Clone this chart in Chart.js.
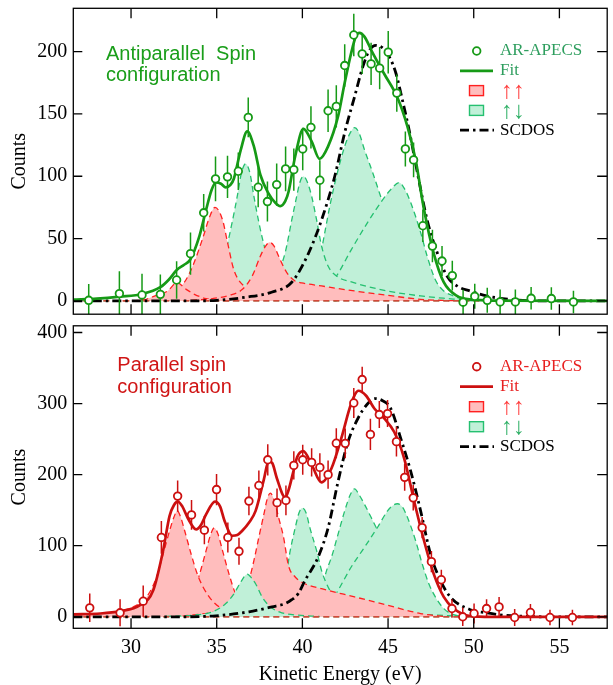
<!DOCTYPE html>
<html>
<head>
<meta charset="utf-8">
<script src="https://cdn.jsdelivr.net/npm/chart.js@4.4.1/dist/chart.umd.min.js"></script>
<style>
  html, body { margin: 0; padding: 0; background: #fff; }
  #wrap { position: relative; width: 613px; height: 685px; }
  #cTop { position: absolute; left: 0; top: 0; }
  #cBot { position: absolute; left: 0; top: 320px; }
</style>
</head>
<body>
<div id="wrap">
  <canvas id="cTop" width="613" height="320"></canvas>
  <canvas id="cBot" width="613" height="365"></canvas>
</div>
<script>
// ---- axis ticks / labels ----
const xTicks = [30, 35, 40, 45, 50, 55];
const yTicksTop = [0, 50, 100, 150, 200];
const yTicksBot = [0, 100, 200, 300, 400];
const legendLabels = ['AR-APECS', 'Fit', '\u2191\u2191', '\u2191\u2193', 'SCDOS'];

// ---- antiparallel (top) : measured points ----
const topEnergy = [27.53, 29.32, 30.64, 31.71, 32.66, 33.47, 34.24, 34.93, 35.63, 36.26, 36.84, 37.42, 37.96, 38.50,
  39.02, 39.50, 40.02, 40.50, 41.02, 41.50, 41.98, 42.47, 43.00, 43.49, 44.01, 44.51, 45.01, 45.51, 46.01, 46.49,
  47.03, 47.59, 48.15, 48.75, 49.38, 50.06, 50.79, 51.54, 52.43, 53.35, 54.53, 55.82];
const topCounts = [0.5, 5.9, 4.8, 5.3, 16.8, 37.9, 70.7, 97.9, 99.5, 104, 147.2, 91.2, 79.7, 93.3,
  105.9, 105.3, 121.9, 139.2, 96.8, 152.5, 156, 188.8, 213.3, 198.1, 190.1, 186.7, 199.5, 166.7, 121.9, 113.1,
  60.3, 44, 32, 20.3, -1, 3.7, 0.5, -0.8, -0.8, 2.1, 1.9, -0.8];
const topErr = [13, 18, 17, 16, 15, 17, 15, 18, 17, 15, 16, 16, 16, 17,
  18, 17, 17, 17, 16, 17, 17, 17, 17, 16, 17, 17, 17, 15, 14, 14,
  13, 13, 12, 12, 10, 10, 10, 10, 10, 9, 9, 9];

// ---- antiparallel (top) : curves [energy, counts] ----
const topFit = [[26.63, 1], [28.0, 1.8], [29.35, 3.4], [30.66, 5.6], [31.71, 11], [32.2, 17], [32.68, 25], [33.1, 29],
  [33.45, 33], [33.99, 52], [34.38, 73], [34.7, 89], [34.95, 95], [35.25, 94], [35.53, 91], [35.8, 93], [36.0, 98],
  [36.4, 121], [36.78, 136], [37.17, 124], [37.55, 101], [38.03, 86], [38.4, 79], [38.71, 76], [39.0, 80], [39.2, 88],
  [39.58, 116], [40.06, 138], [40.54, 128], [41.0, 114], [41.5, 124], [42.08, 148], [42.47, 175], [42.85, 199],
  [43.14, 213], [43.33, 215], [43.62, 212], [44.1, 199], [44.78, 182], [45.55, 163], [46.13, 140], [46.61, 113],
  [47.09, 74], [47.67, 38], [48.25, 15], [49.02, 4], [50.0, 1], [51.0, 0.3], [57.79, 0]];
const topScdos = [[26.63, 0], [33.0, 0], [35.0, 0.5], [36.7, 3], [38.2, 7], [39.38, 15], [40.35, 38], [41.12, 65],
  [41.89, 100], [42.47, 135], [43.05, 164], [43.53, 188], [43.91, 201], [44.3, 205], [44.68, 203], [45.07, 196],
  [45.45, 183], [45.84, 161], [46.23, 137], [46.71, 103], [47.28, 65], [47.86, 39], [48.44, 20], [49.02, 12],
  [49.79, 8], [50.75, 4], [52.1, 1.3], [53.64, 0], [57.79, 0]];
const topUpUp1 = [[29.5, 0], [30.71, 0.8], [31.29, 3.5], [32.14, 8], [32.68, 14.7], [33.22, 9.3], [33.7, 5.3],
  [34.37, 1.9], [35.14, 0.5], [36.0, 0]];
const topUpUp2 = [[30.5, 0.5], [31.67, 2.7], [32.5, 6.7], [33.1, 14.7], [33.6, 28], [34.2, 51], [34.6, 68], [34.9, 75],
  [35.34, 65], [35.63, 47], [36.0, 25], [36.68, 10.7], [37.45, 5.3], [38.4, 2.7], [39.5, 1], [40.5, 0]];
const topUpUp3 = [[33.5, 0.5], [34.76, 1.9], [35.72, 4.5], [36.5, 9.3], [37.07, 20], [37.55, 36], [37.85, 44],
  [38.09, 47], [38.35, 44], [38.61, 36], [39.09, 22.7], [39.57, 16], [39.96, 14.5], [41.12, 12], [43.04, 8],
  [44.97, 4.5], [46.9, 1.3], [48.8, 0.2], [49.4, 0]];
const topUpDn1 = [[30.5, 0], [31.3, 0.8], [32.25, 2.7], [33.22, 7.2], [34.18, 14.7], [34.95, 25], [35.53, 41],
  [35.9, 63], [36.2, 84], [36.45, 103], [36.69, 110], [36.93, 103], [37.17, 84], [37.46, 63], [37.84, 41],
  [38.42, 23], [39.0, 10.7], [39.77, 4], [41.0, 1], [42.0, 0]];
const topUpDn2 = [[36.5, 1], [37.5, 5], [38.0, 10], [38.5, 20], [39.0, 39], [39.38, 65], [39.67, 84], [39.85, 95],
  [40.06, 100], [40.3, 95], [40.54, 84], [40.83, 65], [41.12, 44], [41.5, 28], [41.99, 20], [43.0, 14.7],
  [44.97, 8], [46.9, 4], [48.8, 1.5], [50.0, 0]];
const topUpDn3 = [[38.5, 1], [39.5, 5], [40.3, 12], [40.8, 25], [41.1, 40], [41.31, 55], [41.6, 76], [41.99, 100],
  [42.47, 124], [42.8, 135], [43.05, 139], [43.3, 135], [43.63, 121], [44.1, 103], [44.49, 87], [44.9, 70],
  [45.4, 50], [46.0, 30], [47.0, 12], [48.0, 4], [49.0, 1]];
const topUpDn4 = [[41.5, 12], [41.99, 20], [42.85, 41], [43.81, 63], [44.68, 81], [45.2, 90], [45.65, 95],
  [46.0, 89], [46.32, 79], [46.9, 55], [47.28, 36], [47.76, 17], [48.25, 8], [48.83, 4], [49.2, 2], [50.0, 0.5]];

// ---- parallel (bottom) : measured points ----
const botEnergy = [27.59, 29.36, 30.71, 31.77, 32.72, 33.53, 34.28, 34.99, 35.65, 36.30, 36.88, 37.46, 37.98, 38.52,
  39.04, 39.50, 40.02, 40.54, 41.02, 41.50, 41.98, 42.50, 43.00, 43.49, 43.97, 44.49, 44.97, 45.49, 45.97, 46.47,
  46.99, 47.53, 48.11, 48.73, 49.36, 50.02, 50.75, 51.48, 52.39, 53.31, 54.45, 55.76];
const botCounts = [12.6, 5.6, 21.9, 111.6, 169.8, 143.3, 121.9, 179, 111.6, 92.1, 162.8, 184.7, 220.9, 160.5,
  163.7, 213, 220.9, 217.2, 210.2, 200, 244.2, 244, 300.8, 333.8, 256.6, 284.5, 285.9, 246.4, 196.2, 167.4,
  125.5, 77.6, 52.1, 11.6, 0, 4.6, 11.6, 13.9, -1, 6, -1, -1];
const botErr = [20, 19, 22, 23, 22, 21, 20, 22, 21, 19, 20, 21, 22, 20,
  21, 20, 21, 20, 20, 20, 21, 21, 21, 18, 22, 19, 19, 21, 19, 18,
  15, 15, 14, 13, 13, 14, 13, 14, 12, 12, 11, 11];

// ---- parallel (bottom) : curves [energy, counts] ----
const botFit = [[26.63, 3.5], [28.21, 4.6], [29.36, 7.9], [30.52, 16.3], [31.29, 37], [31.87, 93], [32.25, 142],
  [32.5, 157], [32.73, 162], [33.0, 155], [33.31, 139], [33.8, 123], [34.1, 130], [34.38, 144], [34.9, 162],
  [35.2, 155], [35.43, 137], [35.91, 114], [36.2, 115], [36.49, 121], [36.9, 133], [37.27, 149], [37.75, 193],
  [38.03, 219], [38.25, 216], [38.51, 195], [39.0, 168], [39.19, 178], [39.48, 205], [39.7, 225], [40.05, 233],
  [40.54, 214], [41.12, 189], [41.7, 209], [42.27, 251], [42.85, 300], [43.27, 318], [43.72, 311], [44.2, 293],
  [44.78, 279], [45.36, 260], [45.94, 223], [46.52, 163], [47.1, 107], [47.67, 60], [48.25, 28], [48.83, 11.6],
  [49.8, 1], [51.0, 0], [57.79, 0]];
const botScdos = [[26.63, 0], [33.0, 0], [34.94, 1.4], [36.88, 7], [38.23, 14], [39.0, 18.6], [39.38, 24],
  [39.77, 33], [40.15, 51], [40.92, 84], [41.5, 125], [42.08, 190], [42.66, 246], [43.24, 279], [43.82, 300],
  [44.24, 307], [44.68, 304], [45.16, 293], [45.74, 251], [46.32, 205], [46.9, 149], [47.48, 88], [48.06, 51],
  [48.63, 28], [49.8, 10], [50.75, 5.6], [51.71, 2.3], [52.67, 1], [54.0, 0], [57.79, 0]];
const botUpUp1 = [[26.63, 3], [28.21, 4.6], [29.18, 7], [30.14, 14], [30.91, 28], [31.49, 56], [31.87, 88],
  [32.25, 121], [32.5, 140], [32.7, 149], [32.9, 140], [33.13, 121], [33.51, 88], [33.9, 58], [34.56, 28],
  [35.5, 9.3], [36.88, 4.6], [38.0, 2], [40.0, 0.5]];
const botUpUp2 = [[29.0, 1.5], [30.14, 3.3], [32.06, 7], [33.03, 14], [33.6, 32.5], [34.0, 60], [34.38, 93],
  [34.65, 116], [34.86, 125], [35.08, 116], [35.34, 93], [35.72, 60], [36.1, 32.5], [36.69, 14], [37.84, 5.6],
  [39.0, 2], [41.0, 0]];
const botUpUp3 = [[33.0, 1], [34.94, 7], [35.91, 14], [36.49, 28], [36.88, 51], [37.17, 79], [37.46, 112],
  [37.75, 144], [37.95, 166], [38.13, 174], [38.35, 164], [38.61, 140], [38.9, 112], [39.19, 72], [39.58, 56],
  [40.15, 46.5], [41.12, 39.5], [43.05, 28], [44.97, 16.3], [46.9, 4.6], [48.44, 0]];
const botUpDn1 = [[32.0, 0.5], [33.6, 2.3], [34.76, 7], [35.53, 18.6], [36.01, 32.5], [36.4, 48.8], [36.78, 60],
  [37.05, 54], [37.27, 46.5], [37.65, 28], [38.13, 14], [38.8, 5.6], [39.77, 2.3], [41.0, 0.5]];
const botUpDn2 = [[36.5, 1], [38.0, 7], [38.5, 15], [38.8, 30], [39.0, 50], [39.29, 93], [39.58, 125], [39.8, 146],
  [40.0, 153], [40.22, 146], [40.44, 125], [40.83, 93], [41.12, 65], [41.5, 42], [41.89, 28], [43.05, 14],
  [44.97, 7], [47.86, 2.3], [50.0, 0]];
const botUpDn3 = [[38.0, 1], [39.0, 3], [40.0, 8], [40.7, 20], [41.1, 38], [41.41, 65], [41.7, 84], [42.08, 116],
  [42.47, 149], [42.8, 172], [43.05, 180], [43.3, 172], [43.63, 158], [44.01, 140], [44.3, 126], [44.8, 105],
  [45.5, 75], [46.5, 35], [47.5, 12], [48.5, 3], [49.5, 0]];
const botUpDn4 = [[41.0, 10], [41.5, 18], [41.9, 30], [42.08, 37], [42.85, 70], [43.63, 98], [44.39, 126],
  [44.97, 149], [45.3, 157], [45.55, 159], [45.85, 154], [46.13, 140], [46.61, 107], [47.0, 74], [47.38, 46.5],
  [47.76, 28], [48.25, 11.6], [48.73, 3.7], [49.3, 0.5]];

const baseline = [[26.63, 0], [57.79, 0]];

// ---- colours ----
const GREEN = '#169a16';
const RED = '#cc1010';
const RED_LINE = '#ff2020';
const RED_FILL = '#ffbdbd';
const GREEN_LINE = '#25c070';
const GREEN_FILL = '#c0f0d8';
const SERIF = '"Liberation Serif", "Times New Roman", serif';
const SANS = '"Liberation Sans", Arial, sans-serif';

const pts = arr => arr.map(p => ({ x: p[0], y: p[1] }));

function component(arr, red) {
  return {
    data: pts(arr), pointRadius: 0, borderWidth: 1.3, borderDash: [6, 4],
    borderColor: red ? RED_LINE : GREEN_LINE,
    backgroundColor: red ? RED_FILL : GREEN_FILL,
    fill: 'origin', cubicInterpolationMode: 'monotone'
  };
}

// drawn first -> last
function buildDatasets(p) {
  const list = [];
  p.under.forEach(c => list.push(component(c.d, c.red)));
  list.push({ data: pts(baseline), pointRadius: 0, borderWidth: 1.3, borderDash: [6, 4], borderColor: GREEN_LINE, fill: false });
  list.push({ data: pts(baseline), pointRadius: 0, borderWidth: 1.3, borderDash: [6, 4], borderColor: RED_LINE, fill: false });
  list.push({ data: pts(p.scdos), pointRadius: 0, borderWidth: 2.8, borderDash: [9, 4, 2.5, 4], borderColor: '#000',
    fill: false, cubicInterpolationMode: 'monotone' });
  list.push({ data: pts(p.fit), pointRadius: 0, borderWidth: 2.7, borderColor: p.color, fill: false,
    cubicInterpolationMode: 'monotone' });
  list.push({ data: p.energy.map((e, i) => ({ x: e, y: p.counts[i] })), showLine: false, pointRadius: 3.8,
    pointBorderWidth: 1.8, pointBackgroundColor: '#fff', borderColor: p.color, pointBorderColor: p.color,
    errBars: p.err, fill: false });
  list.forEach((d, i) => { d.order = list.length - i; });
  return list;
}

// error bars drawn just before the point markers
const errorBars = {
  id: 'errorBars',
  beforeDatasetDraw(chart, args) {
    const ds = chart.data.datasets[args.index];
    if (!ds.errBars) return;
    const { ctx, chartArea: a, scales: { x, y } } = chart;
    ctx.save();
    ctx.beginPath();
    ctx.rect(a.left, a.top, a.right - a.left, a.bottom - a.top);
    ctx.clip();
    ctx.strokeStyle = ds.borderColor;
    ctx.lineWidth = 1.5;
    ds.data.forEach((p, i) => {
      const px = x.getPixelForValue(p.x);
      ctx.beginPath();
      ctx.moveTo(px, y.getPixelForValue(p.y - ds.errBars[i]));
      ctx.lineTo(px, y.getPixelForValue(p.y + ds.errBars[i]));
      ctx.stroke();
    });
    ctx.restore();
  }
};

// box frame with inward ticks, caption and legend
const annot = {
  id: 'annot',
  afterDraw(chart, args, o) {
    const { ctx, chartArea: a, scales: { x, y } } = chart;
    ctx.save();
    ctx.strokeStyle = '#000';
    ctx.lineWidth = 1.3;
    ctx.setLineDash([]);
    ctx.strokeRect(a.left, a.top, a.right - a.left, a.bottom - a.top);
    ctx.beginPath();
    xTicks.forEach(v => {
      const px = x.getPixelForValue(v);
      ctx.moveTo(px, a.top); ctx.lineTo(px, a.top + 10);
      ctx.moveTo(px, a.bottom); ctx.lineTo(px, a.bottom - 10);
    });
    o.yTicks.forEach(v => {
      const py = y.getPixelForValue(v);
      ctx.moveTo(a.left, py); ctx.lineTo(a.left + 9, py);
      ctx.moveTo(a.right, py); ctx.lineTo(a.right - 10, py);
    });
    ctx.stroke();

    // caption
    ctx.fillStyle = o.captionColor;
    ctx.font = '20px ' + SANS;
    ctx.textAlign = 'left';
    ctx.textBaseline = 'alphabetic';
    o.caption.forEach((t, i) => ctx.fillText(t, o.captionX, o.captionY[i]));

    // legend
    ctx.textBaseline = 'middle';
    const cx = 476.7;
    legendLabels.forEach((t, i) => {
      const ly = o.legY + i * o.legDy;
      ctx.setLineDash([]);
      if (i === 0) {
        ctx.beginPath(); ctx.arc(cx, ly, 3.8, 0, Math.PI * 2);
        ctx.fillStyle = '#fff'; ctx.fill();
        ctx.strokeStyle = o.color; ctx.lineWidth = 1.8; ctx.stroke();
      } else if (i === 1) {
        ctx.beginPath(); ctx.moveTo(460, ly); ctx.lineTo(493, ly);
        ctx.strokeStyle = o.color; ctx.lineWidth = 2.7; ctx.stroke();
      } else if (i === 2 || i === 3) {
        ctx.fillStyle = i === 2 ? RED_FILL : GREEN_FILL;
        ctx.strokeStyle = i === 2 ? RED_LINE : GREEN_LINE;
        ctx.lineWidth = 1.4;
        ctx.fillRect(469.5, ly - 5, 14, 10);
        ctx.strokeRect(469.5, ly - 5, 14, 10);
      } else {
        ctx.beginPath(); ctx.setLineDash([9, 4, 2.5, 4]);
        ctx.moveTo(460, ly); ctx.lineTo(494, ly);
        ctx.strokeStyle = '#000'; ctx.lineWidth = 2.7; ctx.stroke();
      }
      ctx.fillStyle = o.textColors[i];
      const arrows = i === 2 || i === 3;
      ctx.font = arrows ? '24px ' + SERIF : '17px ' + SERIF;
      ctx.fillText(t, arrows ? 501 : 500, ly + (arrows ? 1 : 0));
    });
    ctx.restore();
  }
};

// chart area must be exactly the box, no label padding
const noPad = s => { s.paddingTop = 0; s.paddingBottom = 0; s.paddingLeft = 0; s.paddingRight = 0; };

function makeChart(id, p) {
  return new Chart(document.getElementById(id), {
    type: 'line',
    data: { datasets: buildDatasets(p) },
    options: {
      responsive: false,
      animation: false,
      layout: { padding: p.padding },
      plugins: {
        legend: { display: false },
        tooltip: { enabled: false },
        annot: p.annot
      },
      scales: {
        x: {
          type: 'linear', min: 26.63, max: 57.79,
          display: p.showX,
          afterBuildTicks: s => { s.ticks = xTicks.map(v => ({ value: v })); },
          afterFit: s => { noPad(s); s.height = p.showX ? 56.7 : 0; },
          grid: { display: false, drawTicks: false },
          border: { display: false },
          ticks: { font: { family: SERIF, size: 20 }, color: '#000', padding: 7, maxRotation: 0 },
          title: { display: true, text: 'Kinetic Energy (eV)', color: '#000',
            font: { family: SERIF, size: 20, lineHeight: 1 }, padding: { top: 0, bottom: 0 } }
        },
        y: {
          type: 'linear', min: p.yMin, max: p.yMax,
          afterBuildTicks: s => { s.ticks = p.annot.yTicks.map(v => ({ value: v })); },
          afterFit: s => { noPad(s); s.width = 73.3; },
          grid: { display: false, drawTicks: false },
          border: { display: false },
          ticks: { font: { family: SERIF, size: 20 }, color: '#000', padding: 6 },
          title: { display: true, text: 'Counts', color: '#000',
            font: { family: SERIF, size: 20, lineHeight: 1 }, padding: { top: 10, bottom: 0 } }
        }
      }
    },
    plugins: [errorBars, annot]
  });
}

makeChart('cTop', {
  color: GREEN, energy: topEnergy, counts: topCounts, err: topErr, fit: topFit, scdos: topScdos,
  under: [
    { d: topUpDn1 }, { d: topUpDn3 }, { d: topUpDn4 }, { d: topUpDn2 },
    { d: topUpUp2, red: true }, { d: topUpUp1, red: true }, { d: topUpUp3, red: true }
  ],
  yMin: -10.64, yMax: 234.7, showX: false,
  padding: { left: 0, right: 1, top: 8.3, bottom: 5 },
  annot: {
    yTicks: yTicksTop, color: GREEN,
    caption: ['Antiparallel  Spin', 'configuration'], captionColor: '#1a9e1a', captionX: 106, captionY: [60, 81],
    legY: 51, legDy: 19.8,
    textColors: ['#2e9e5e', '#2e9e5e', '#ff3b3b', '#2fb066', '#000']
  }
});

makeChart('cBot', {
  color: RED, energy: botEnergy, counts: botCounts, err: botErr, fit: botFit, scdos: botScdos,
  under: [
    { d: botUpDn3 }, { d: botUpDn4 }, { d: botUpDn2 },
    { d: botUpUp2, red: true }, { d: botUpUp1, red: true }, { d: botUpUp3, red: true },
    { d: botUpDn1 }
  ],
  yMin: -16.2, yMax: 409.4, showX: true,
  padding: { left: 0, right: 1, top: 3.3, bottom: 0 },
  annot: {
    yTicks: yTicksBot, color: RED,
    caption: ['Parallel spin', 'configuration'], captionColor: '#d01515', captionX: 117.3, captionY: [50.7, 72.7],
    legY: 46.7, legDy: 20,
    textColors: ['#e82020', '#e82020', '#ff3b3b', '#2fb066', '#000']
  }
});
</script>
</body>
</html>
